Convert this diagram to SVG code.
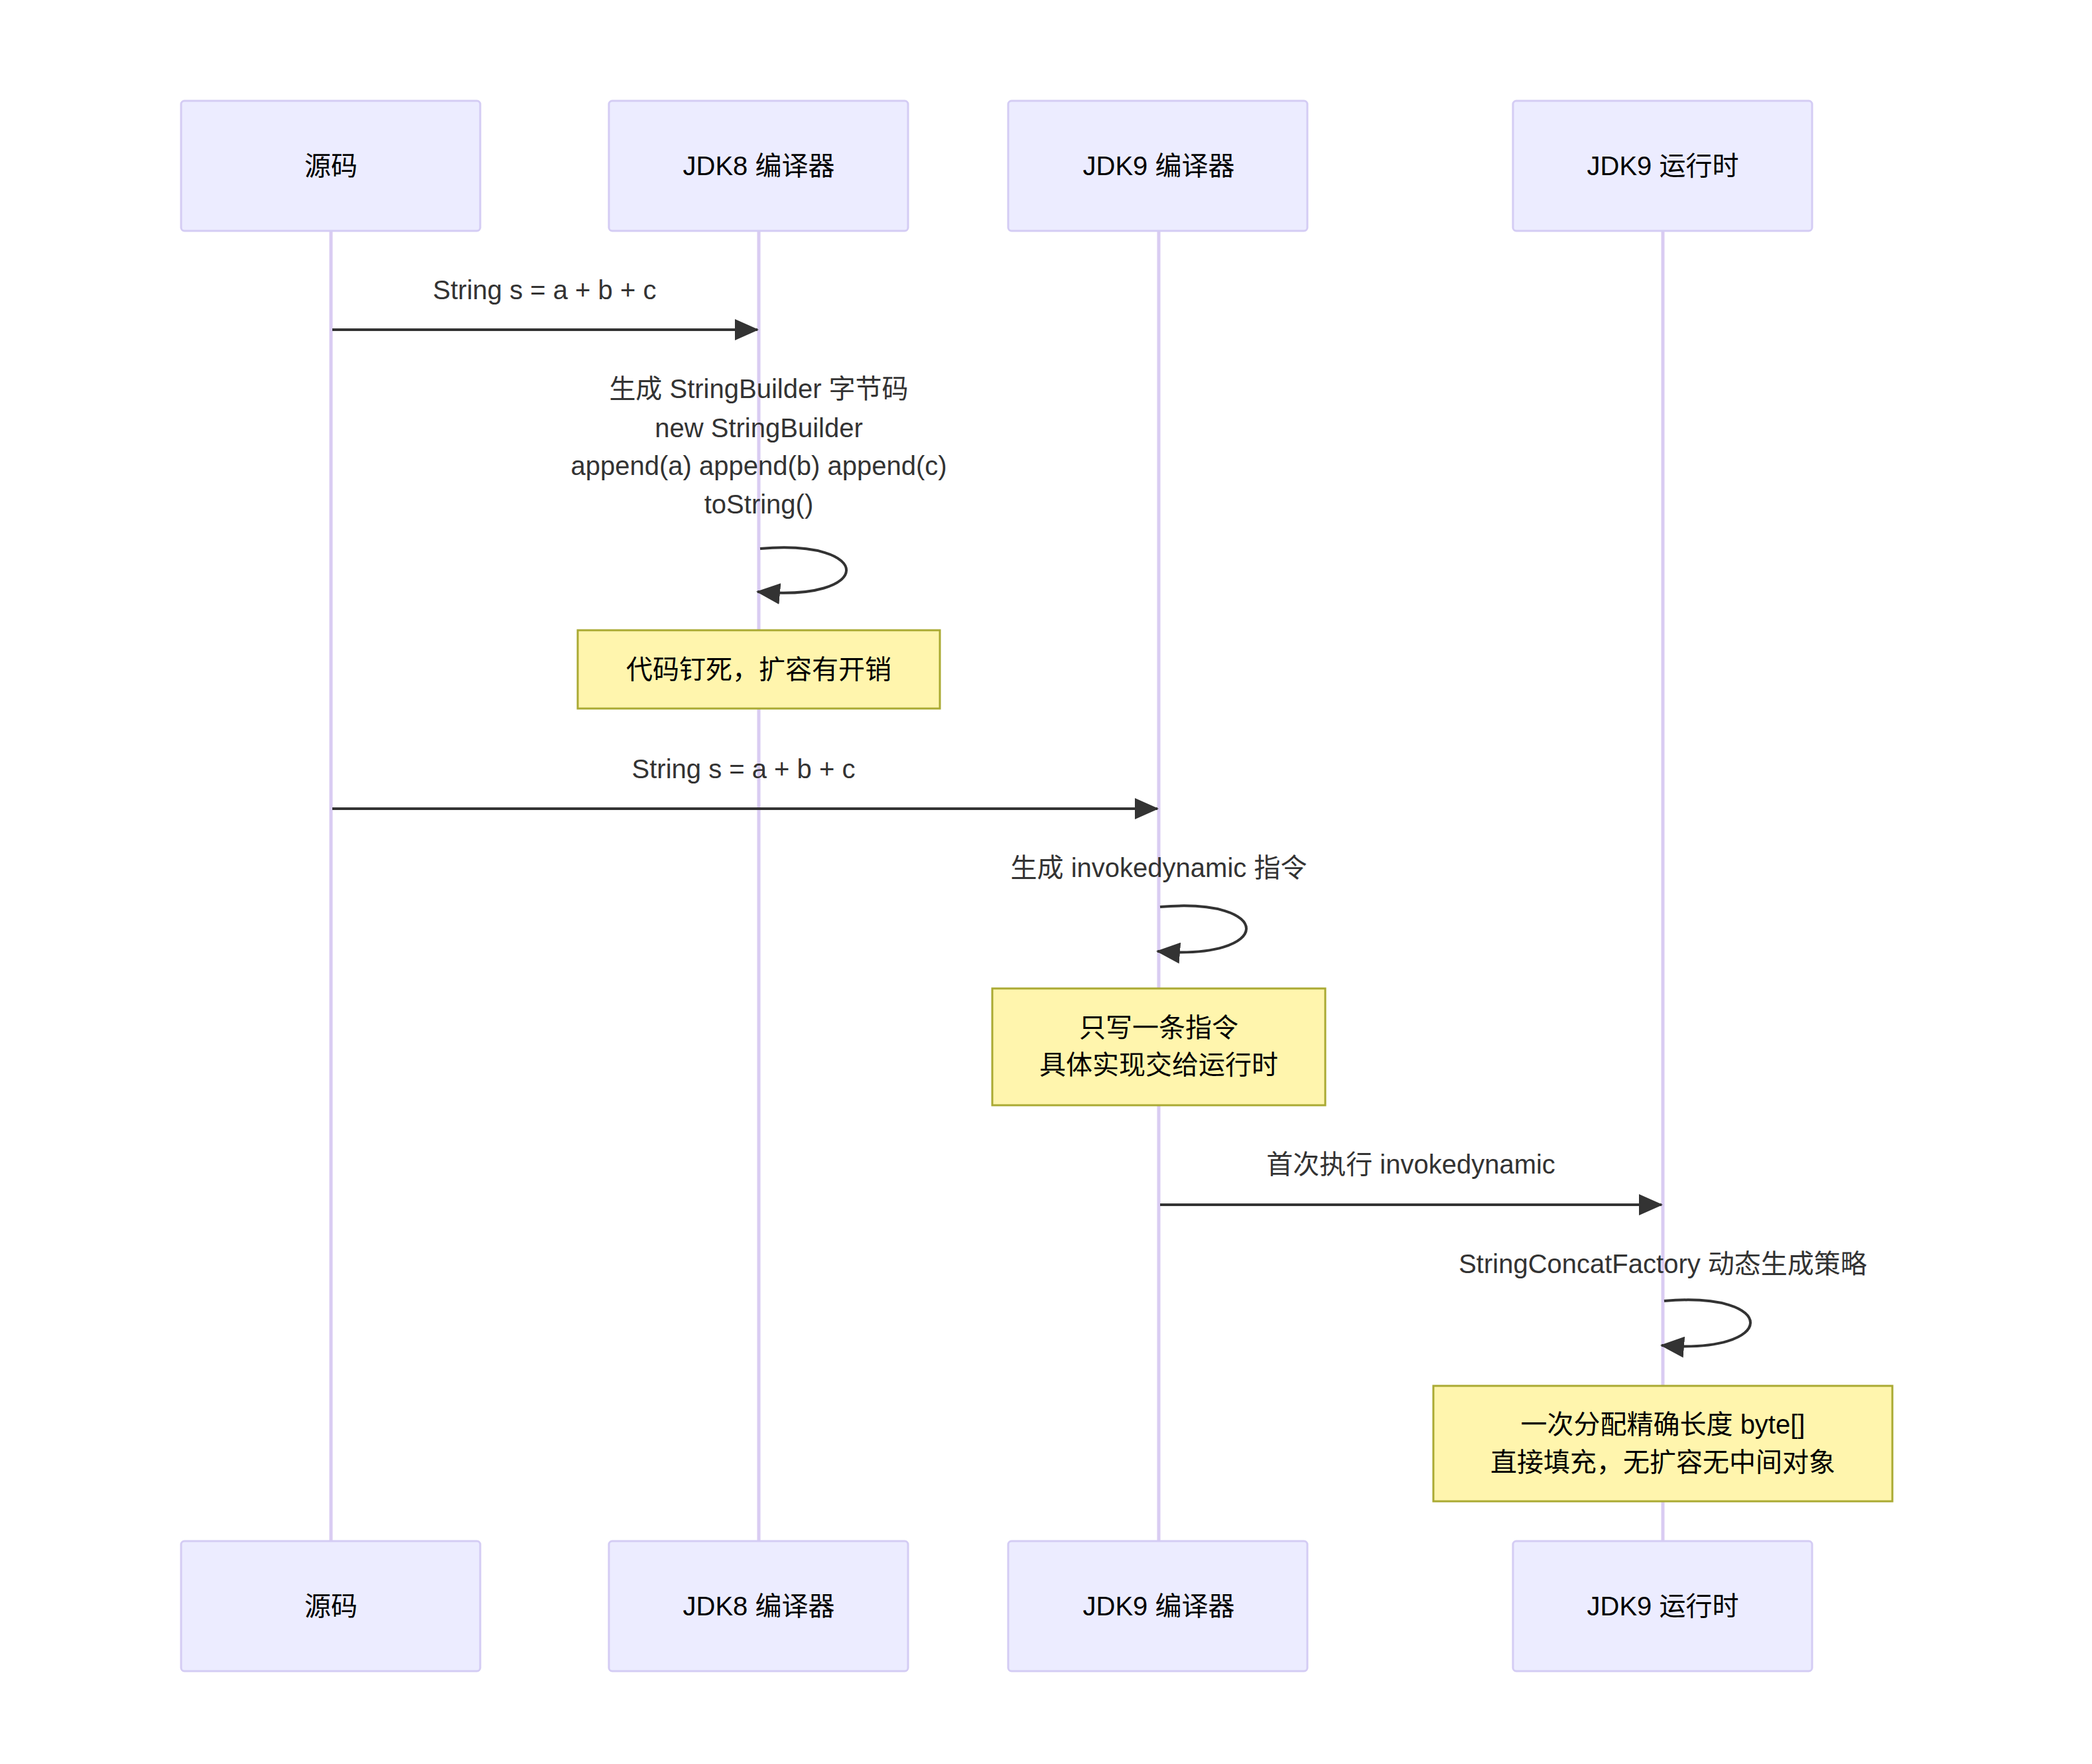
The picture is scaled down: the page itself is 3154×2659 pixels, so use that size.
<svg xmlns="http://www.w3.org/2000/svg" width="3154" height="2659" viewBox="0 0 3154 2659">
<style>
.actor{fill:#ECECFF;stroke:#D4CCF4;stroke-width:3}
.note{fill:#FFF5AD;stroke:#AAAA33;stroke-width:3}
.life{stroke:#D9CCF2;stroke-width:5}
.msg{stroke:#333;stroke-width:4;fill:none}
text{font-family:"Liberation Sans","Noto Sans CJK SC",sans-serif;font-size:40px;fill:#333;text-anchor:middle;dominant-baseline:central}
.at{fill:#000}
</style>
<defs>
<marker id="ah" viewBox="0 0 10 10" refX="10" refY="5" markerWidth="10" markerHeight="10" markerUnits="userSpaceOnUse" orient="auto" overflow="visible">
<path d="M-32,-14 L0,5 L-32,24 z" transform="translate(10,0)" fill="#333"/>
</marker>
<marker id="a2" viewBox="0 0 36 32" refX="34" refY="16" markerWidth="36" markerHeight="32" markerUnits="userSpaceOnUse" orient="auto">
<path d="M0,0 L36,16 L0,32 z" fill="#333"/>
</marker>
</defs>
<g id="lifelines">
<line class="life" x1="499" y1="348" x2="499" y2="2323"/>
<line class="life" x1="1144" y1="348" x2="1144" y2="2323"/>
<line class="life" x1="1747" y1="348" x2="1747" y2="2323"/>
<line class="life" x1="2507" y1="348" x2="2507" y2="2323"/>
</g>
<g id="actor-src-top"><rect class="actor" x="273" y="152" width="451" height="196" rx="5"/><text class="at" x="499" y="250">源码</text></g>
<g id="actor-jdk8-top"><rect class="actor" x="918" y="152" width="451" height="196" rx="5"/><text class="at" x="1144" y="250">JDK8 编译器</text></g>
<g id="actor-jdk9-top"><rect class="actor" x="1520" y="152" width="451" height="196" rx="5"/><text class="at" x="1747" y="250">JDK9 编译器</text></g>
<g id="actor-rt-top"><rect class="actor" x="2281" y="152" width="451" height="196" rx="5"/><text class="at" x="2507" y="250">JDK9 运行时</text></g>
<g id="actor-src-bot"><rect class="actor" x="273" y="2323" width="451" height="196" rx="5"/><text class="at" x="499" y="2421">源码</text></g>
<g id="actor-jdk8-bot"><rect class="actor" x="918" y="2323" width="451" height="196" rx="5"/><text class="at" x="1144" y="2421">JDK8 编译器</text></g>
<g id="actor-jdk9-bot"><rect class="actor" x="1520" y="2323" width="451" height="196" rx="5"/><text class="at" x="1747" y="2421">JDK9 编译器</text></g>
<g id="actor-rt-bot"><rect class="actor" x="2281" y="2323" width="451" height="196" rx="5"/><text class="at" x="2507" y="2421">JDK9 运行时</text></g>
<g id="connectors">
<line class="msg" x1="501" y1="497" x2="1142" y2="497" marker-end="url(#a2)"/>
<text x="821" y="437">String s = a + b + c</text>
<path class="msg" d="M1146,827 C1320,812 1320,908 1142,892" marker-end="url(#a2)"/>
<text x="1144" y="586">生成 StringBuilder 字节码</text>
<text x="1144" y="645">new StringBuilder</text>
<text x="1144" y="702">append(a) append(b) append(c)</text>
<text x="1144" y="760">toString()</text>
<line class="msg" x1="501" y1="1219" x2="1745" y2="1219" marker-end="url(#a2)"/>
<text x="1121" y="1159">String s = a + b + c</text>
<path class="msg" d="M1749,1367 C1923,1352 1923,1448 1745,1434" marker-end="url(#a2)"/>
<text x="1747" y="1308">生成 invokedynamic 指令</text>
<line class="msg" x1="1749" y1="1816" x2="2505" y2="1816" marker-end="url(#a2)"/>
<text x="2127" y="1755">首次执行 invokedynamic</text>
<path class="msg" d="M2509,1961 C2683,1946 2683,2042 2505,2028" marker-end="url(#a2)"/>
<text x="2507" y="1905">StringConcatFactory 动态生成策略</text>
</g>
<g id="note1"><rect class="note" x="871" y="950" width="546" height="118"/><text class="at" x="1144" y="1009">代码钉死，扩容有开销</text></g>
<g id="note2"><rect class="note" x="1496" y="1490" width="502" height="176"/><text class="at" x="1747" y="1549">只写一条指令</text><text class="at" x="1747" y="1605">具体实现交给运行时</text></g>
<g id="note3"><rect class="note" x="2161" y="2089" width="692" height="174"/><text class="at" x="2507" y="2147">一次分配精确长度 byte[]</text><text class="at" x="2507" y="2204">直接填充，无扩容无中间对象</text></g>
</svg>
